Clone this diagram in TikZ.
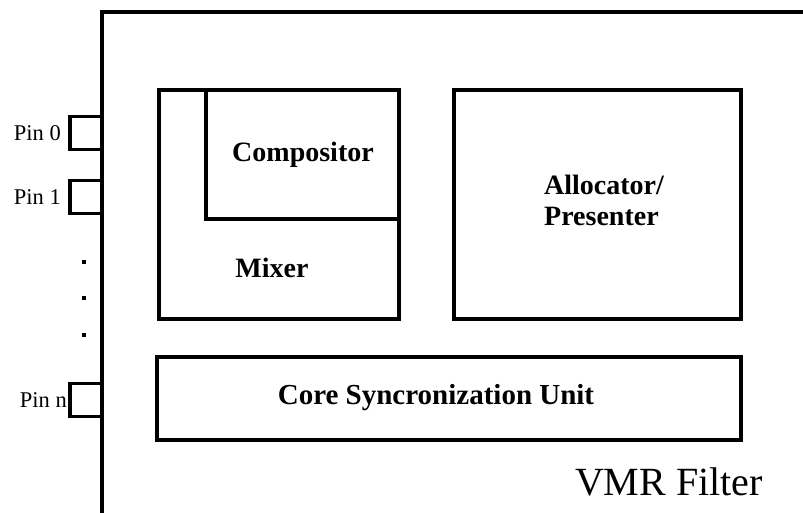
\documentclass[tikz,border=0pt]{standalone}
\usepackage{fontspec}
\setmainfont{Liberation Serif}
\begin{document}
\begin{tikzpicture}[x=1pt,y=-1pt,
  edge/.style={line width=3.2pt},
  block/.style={draw,line width=3.2pt,inner sep=0pt},
  blocklabel/.style={font=\fontsize{28}{31}\selectfont\bfseries,inner sep=0pt},
  pinbox/.style={draw,line width=3.2pt,minimum width=32pt,minimum height=33pt,inner sep=0pt},
  pinlabel/.style={font=\fontsize{22.5}{24}\selectfont,inner sep=0pt,anchor=east},
  dot/.style={fill,minimum size=4.5pt,inner sep=0pt}]
\useasboundingbox (0,0) rectangle (803,513);
% filter outline, open to the right and bottom
\draw[edge,line join=miter] (806,12) -- (102,12) -- (102,516);
% input pins
\node[pinbox] (p0) at (86,133) {};
\node[pinbox] (p1) at (86,197) {};
\node[pinbox] (pn) at (86,400) {};
\node[pinlabel] at (61,133) {Pin 0};
\node[pinlabel] at (61,197) {Pin 1};
\node[pinlabel] at (67,400) {Pin n};
\node[dot] (d1) at (84,262) {};
\node[dot] (d2) at (84,298) {};
\node[dot] (d3) at (84,335) {};
% mixer with compositor inside
\draw[block] (159,90) rectangle (399,319);
\draw[block] (206,90) rectangle (399,219);
\node[blocklabel] (comp) at (303,155) {Compositor};
\node[blocklabel] (mix) at (272,268) {Mixer};
% allocator / presenter
\draw[block] (454,90) rectangle (741,319);
\node[blocklabel,align=left,anchor=west] (alloc) at (544,200) {Allocator/\\Presenter};
% core synchronization unit
\draw[block] (157,357) rectangle (741,440);
\node[blocklabel,font=\fontsize{29}{31}\selectfont\bfseries] (core) at (436,398) {Core Syncronization Unit};
% filter name
\node[font=\fontsize{40}{42}\selectfont,inner sep=0pt] (name) at (669,482) {VMR Filter};
\end{tikzpicture}
\end{document}
